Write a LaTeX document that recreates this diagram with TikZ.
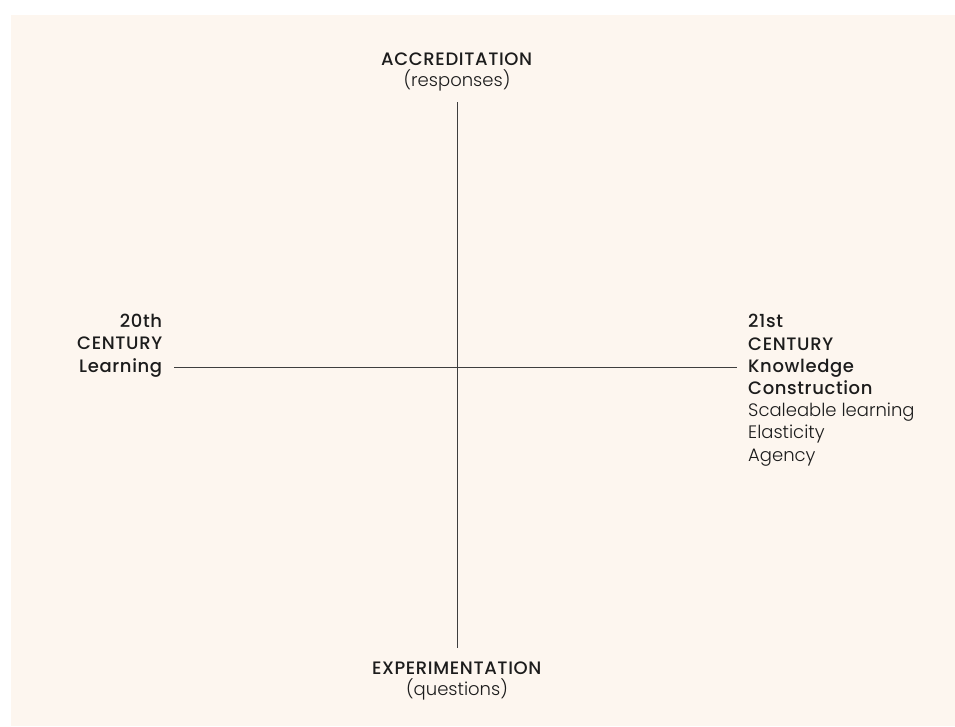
\documentclass[tikz,border=0pt]{standalone}
\usepackage{fontspec}
\setmainfont{Poppins}[UprightFont={Poppins Light}, BoldFont={Poppins Medium}, BoldFeatures={LetterSpace=3.5}]
\definecolor{paper}{HTML}{FDF6EF}
\definecolor{ink}{HTML}{1C1C1C}
\tikzset{
  axis/.style={draw=ink!85, line width=0.9pt},
  pole/.style={text=ink, inner sep=0pt, align=center, font=\fontsize{18}{20.5}\selectfont},
  side/.style={text=ink, inner sep=0pt, font=\fontsize{18}{22.2}\selectfont}
}
\begin{document}
\begin{tikzpicture}[x=1pt,y=-1pt]
  \useasboundingbox (0,0) rectangle (955,726);
  \fill[paper] (11,15) rectangle (955,726);

  % axes
  \coordinate (top) at (457,102);
  \coordinate (bottom) at (457,648);
  \coordinate (left) at (174,367);
  \coordinate (right) at (737,367);
  \draw[axis] (top) -- (bottom);
  \draw[axis] (left) -- (right);

  % labels
  \node[pole, anchor=base] (accr) at (457,86) {\textbf{ACCREDITATION}\\(responses)};
  \node[pole, anchor=base] (expe) at (457,695) {\textbf{EXPERIMENTATION}\\(questions)};
  \node[side, align=right, anchor=base east] (old) at (163,372) {\textbf{20th}\\\textbf{CENTURY}\\\textbf{Learning}};
  \node[side, align=left, anchor=base west] (new) at (748,461) {\textbf{21st}\\\textbf{CENTURY}\\\textbf{Knowledge}\\\textbf{Construction}\\Scaleable learning\\Elasticity\\Agency};
\end{tikzpicture}
\end{document}
